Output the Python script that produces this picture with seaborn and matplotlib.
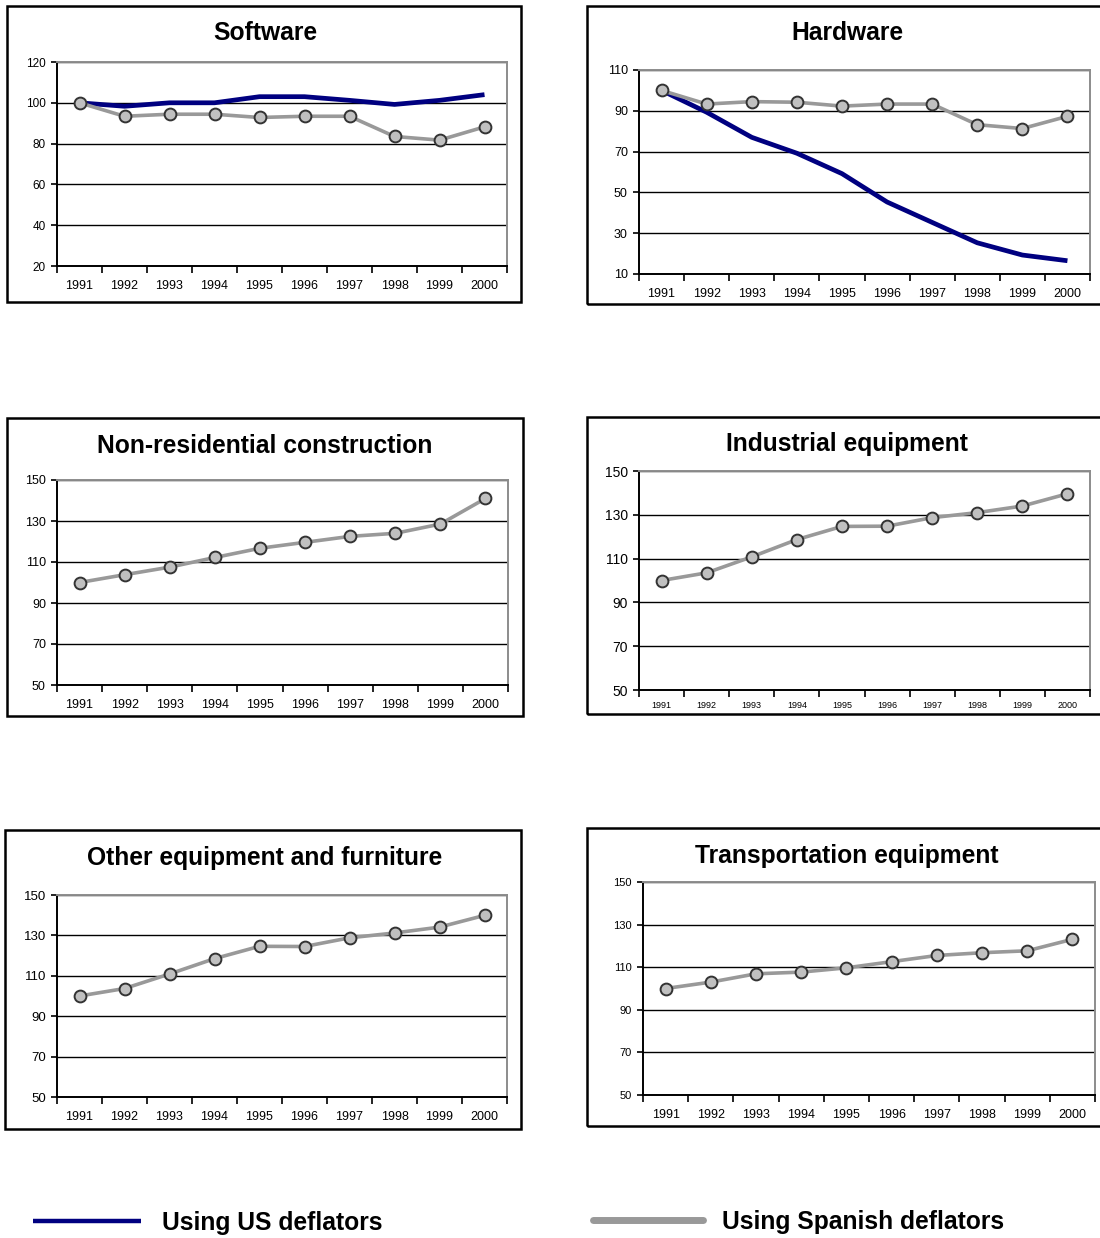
import numpy as np
import pandas as pd
import matplotlib
matplotlib.use("Agg")
import matplotlib.pyplot as plt
from matplotlib.patches import Rectangle
from matplotlib.lines import Line2D
from matplotlib.ticker import FixedLocator
import seaborn as sns

# ---------------------------------------------------------------- data
years = [1991, 1992, 1993, 1994, 1995, 1996, 1997, 1998, 1999, 2000]

software_us = [100, 98.3, 100, 100, 103, 103, 101.2, 99.2, 101.2, 104]
software_es = [100, 93.4, 94.4, 94.4, 92.8, 93.4, 93.4, 83.5, 81.7, 88.2]

hardware_us = [100, 89.3, 77, 69.2, 59.2, 45.3, 35.3, 25.3, 19.3, 16.5]
hardware_es = [100, 93.3, 94.5, 94.2, 92.3, 93.3, 93.3, 83.2, 81.3, 87.3]

nonres_es = [100, 103.8, 107.5, 112.2, 116.7, 119.6, 122.5, 124.0, 128.5, 141.0]
industrial_es = [100, 103.5, 110.8, 118.7, 124.7, 124.8, 128.7, 131.0, 134.0, 139.6]
other_es = [100, 103.7, 110.9, 118.5, 124.6, 124.5, 128.8, 131.2, 134.1, 139.9]
transport_es = [100, 103.0, 106.9, 107.7, 109.7, 112.6, 115.5, 116.8, 117.7, 123.1]

titles = ["Software", "Hardware", "Non-residential construction",
          "Industrial equipment", "Other equipment and furniture",
          "Transportation equipment"]
us_series = [software_us, hardware_us, None, None, None, None]
es_series = [software_es, hardware_es, nonres_es, industrial_es, other_es, transport_es]
y_ticks = [list(range(20, 121, 20)), list(range(10, 111, 20)),
           list(range(50, 151, 20)), list(range(50, 151, 20)),
           list(range(50, 151, 20)), list(range(50, 151, 20))]

legend_labels = ["Using US deflators", "Using Spanish deflators"]

# ---------------------------------------------------------------- layout (pixels)
W, H = 1100, 1238
# plot area: left, top, right, bottom
plot_px = [(57, 62, 507, 266), (639, 70, 1090, 274),
           (57, 480, 508, 685), (639, 471, 1090, 690),
           (57, 895, 507, 1097), (643, 882, 1095, 1095)]
# panel frame: left, top, right, bottom
box_px = [(7, 6, 521, 302), (587, 6, 1103, 304),
          (7, 418, 523, 716), (587, 417, 1103, 714),
          (5, 830, 521, 1129), (587, 828, 1103, 1126)]
title_px = [(265, 33), (847, 33), (265, 446), (847, 444), (265, 858), (847, 856)]
xtick_size = [9, 9, 9, 6.5, 9, 9]
ytick_size = [8.5, 9, 9, 10, 9.5, 8]

US_COLOR = "#000080"
ES_LINE = "#999999"
ES_FACE = "#C0C0C0"
ES_EDGE = "#333333"

sns.set_style("white")
plt.rcParams["font.family"] = ["Liberation Sans", "DejaVu Sans"]
plt.rcParams["text.color"] = "black"
plt.rcParams["xtick.color"] = "black"
plt.rcParams["ytick.color"] = "black"
plt.rcParams["axes.labelcolor"] = "black"

fig = plt.figure(figsize=(W / 100, H / 100), dpi=100)


def fig_rect(l, t, r, b):
    return [l / W, 1 - b / H, (r - l) / W, (b - t) / H]


for i in range(6):
    ax = fig.add_axes(fig_rect(*plot_px[i]))
    ax.set_axisbelow(True)

    if us_series[i] is not None:
        df_us = pd.DataFrame({"year": years, "value": us_series[i]})
        sns.lineplot(data=df_us, x="year", y="value", ax=ax, color=US_COLOR,
                     lw=3.4, solid_joinstyle="round", solid_capstyle="butt",
                     zorder=3)
    df_es = pd.DataFrame({"year": years, "value": es_series[i]})
    sns.lineplot(data=df_es, x="year", y="value", ax=ax, color=ES_LINE,
                 lw=2.6, marker="o", markersize=8.5,
                 markerfacecolor=ES_FACE, markeredgecolor=ES_EDGE,
                 markeredgewidth=1.4, zorder=4)

    yt = y_ticks[i]
    ax.set_ylim(yt[0], yt[-1])
    ax.set_xlim(years[0] - 0.5, years[-1] + 0.5)
    ax.set_yticks(yt)
    ax.set_yticklabels([str(v) for v in yt], fontsize=ytick_size[i], color="black")
    ax.set_xticks(years)
    ax.set_xticklabels([str(y) for y in years], fontsize=xtick_size[i], color="black")
    ax.xaxis.set_minor_locator(FixedLocator([y - 0.5 for y in years] + [years[-1] + 0.5]))
    ax.tick_params(axis="x", which="major", length=0, pad=10 if xtick_size[i] > 7 else 8)
    ax.tick_params(axis="x", which="minor", length=5, width=1.2, color="black",
                   direction="out", bottom=True)
    ax.tick_params(axis="y", which="major", length=4, width=1.2, color="black",
                   direction="out", left=True, pad=4)
    ax.set_xlabel("")
    ax.set_ylabel("")

    ax.yaxis.grid(True, color="black", lw=1.0)
    ax.xaxis.grid(False)
    for side in ("left", "bottom"):
        ax.spines[side].set_color("black")
        ax.spines[side].set_linewidth(1.4)
    for side in ("top", "right"):
        ax.spines[side].set_color("#8C8C8C")
        ax.spines[side].set_linewidth(1.4)

    # panel frame and title
    fig.add_artist(Rectangle((box_px[i][0] / W, 1 - box_px[i][3] / H),
                             (box_px[i][2] - box_px[i][0]) / W,
                             (box_px[i][3] - box_px[i][1]) / H,
                             transform=fig.transFigure, fill=False,
                             ec="black", lw=1.8))
    fig.text(title_px[i][0] / W, 1 - title_px[i][1] / H, titles[i],
             ha="center", va="center", fontsize=17.7, fontweight="bold",
             color="black")

# ---------------------------------------------------------------- legend
us_handle = Line2D([], [], color=US_COLOR, lw=3.2, solid_capstyle="butt")
es_handle = Line2D([], [], color=ES_LINE, lw=5, solid_capstyle="round")
leg_font = 17.7
leg_px = leg_font * 100 / 72
fig.legend(handles=[us_handle], labels=[legend_labels[0]], loc="center left",
           bbox_to_anchor=(33 / W, 1 - 1223 / H), frameon=False,
           borderpad=0, borderaxespad=0, handlelength=108 / leg_px,
           handletextpad=21 / leg_px, labelcolor="black",
           prop={"size": leg_font, "weight": "bold"})
fig.legend(handles=[es_handle], labels=[legend_labels[1]], loc="center left",
           bbox_to_anchor=(593 / W, 1 - 1222 / H), frameon=False,
           borderpad=0, borderaxespad=0, handlelength=110 / leg_px,
           handletextpad=19 / leg_px, labelcolor="black",
           prop={"size": leg_font, "weight": "bold"})

fig.savefig("out.png", dpi=100, facecolor="white")
